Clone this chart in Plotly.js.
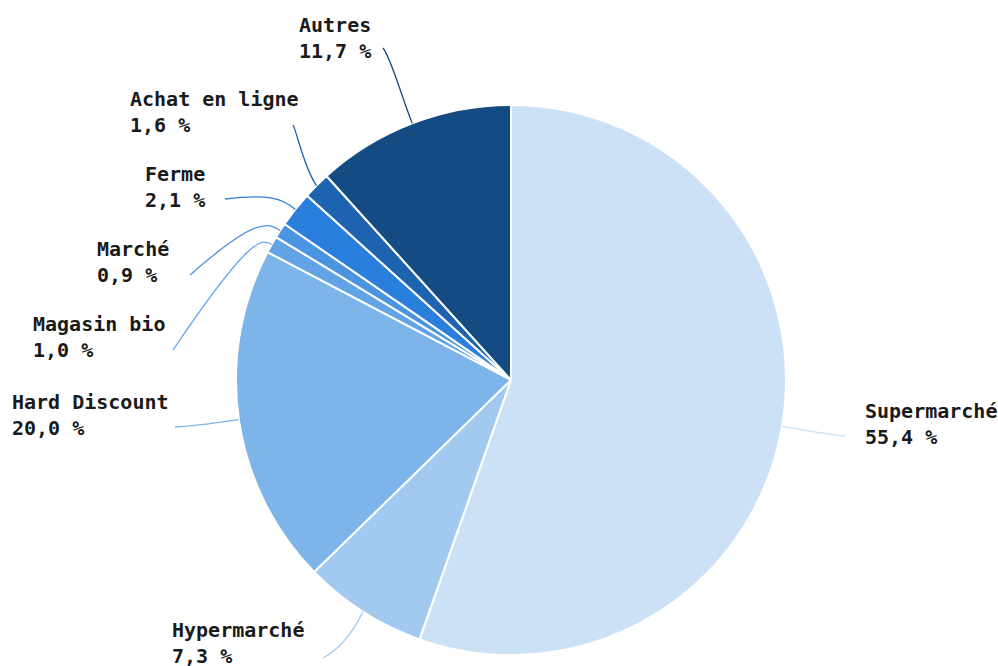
<!DOCTYPE html>
<html>
<head>
<meta charset="utf-8">
<script src="https://cdn.plot.ly/plotly-3.0.1.min.js"></script>
<style>html,body{margin:0;padding:0;background:#fff;}#chart{width:998px;height:666px;}</style>
</head>
<body>
<div id="chart"></div>
<script>
// ---- data ----
const categories = ["Supermarché", "Hypermarché", "Hard Discount", "Magasin bio", "Marché", "Ferme", "Achat en ligne", "Autres"];
const shares = [55.4, 7.3, 20.0, 1.0, 0.9, 2.1, 1.6, 11.7];
const colors = ["#cde1f6", "#a2c9f0", "#7db4ea", "#62a3e6", "#4a94e2", "#2a7fdc", "#1d63b0", "#144b82"];

// ---- layout (pixel positions of labels and leader lines) ----
const W = 998, H = 666;
const CX = 511, CY = 380, R = 275;
// [labelLeft, labelCenterY, c1x, c1y, c2x, c2y, endx, endy]
const labelPos = [
  [864, 424, 805, 430, 825, 434, 845, 436],
  [171, 643, 355, 628, 342, 648, 323, 658],
  [11, 415, 215, 423, 195, 426, 175, 427],
  [32, 337, 262, 238, 250, 236, 173, 350],
  [96, 262, 268, 222, 255, 218, 190, 275],
  [144, 187, 282, 198, 270, 194, 225, 199],
  [129, 112, 304, 168, 297, 132, 293, 125],
  [298, 38, 400, 92, 391, 58, 383, 48]
];

function fmt(v) { return v.toFixed(1).replace(".", ",") + " %"; }
const px = x => x / W;
const py = y => 1 - y / H;

const total = shares.reduce((a, b) => a + b, 0);
let cum = 0;
const annotations = [];
const shapes = [];
shares.forEach((v, i) => {
  const mid = (cum + v / 2) / total * 2 * Math.PI;
  cum += v;
  const sx = CX + R * Math.sin(mid);
  const sy = CY - R * Math.cos(mid);
  const p = labelPos[i];
  shapes.push({
    type: "path", xref: "paper", yref: "paper",
    path: `M ${px(sx)} ${py(sy)} C ${px(p[2])} ${py(p[3])} ${px(p[4])} ${py(p[5])} ${px(p[6])} ${py(p[7])}`,
    line: { color: colors[i], width: 1.3 }
  });
  annotations.push({
    xref: "paper", yref: "paper",
    x: px(p[0]), y: py(p[1]), xanchor: "left", yanchor: "middle", align: "left",
    showarrow: false, borderpad: 0,
    text: categories[i] + "<br>" + fmt(v),
    font: { family: "DejaVu Sans Mono", size: 20, color: "#1a1a1a", weight: "bold" }
  });
});

const trace = {
  type: "pie",
  labels: categories,
  values: shares,
  sort: false,
  direction: "clockwise",
  rotation: 0,
  textinfo: "none",
  hoverinfo: "skip",
  marker: { colors: colors, line: { color: "#ffffff", width: 2 } },
  domain: { x: [(CX - R) / W, (CX + R) / W], y: [1 - (CY + R) / H, 1 - (CY - R) / H] },
  showlegend: false
};

Plotly.newPlot("chart", [trace], {
  width: W, height: H,
  margin: { l: 0, r: 0, t: 0, b: 0 },
  paper_bgcolor: "#ffffff",
  showlegend: false,
  annotations: annotations,
  shapes: shapes
}, { displayModeBar: false, staticPlot: true });
</script>
</body>
</html>
